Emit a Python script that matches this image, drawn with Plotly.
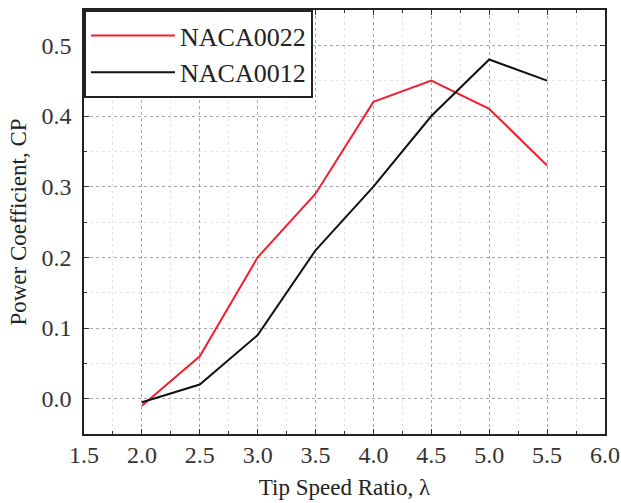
import plotly.graph_objects as go

tsr = [2.0, 2.5, 3.0, 3.5, 4.0, 4.5, 5.0, 5.5]
cp_naca0022 = [-0.01, 0.06, 0.20, 0.29, 0.42, 0.45, 0.41, 0.33]
cp_naca0012 = [-0.005, 0.02, 0.09, 0.21, 0.30, 0.40, 0.48, 0.45]
x_ticks = [1.5, 2.0, 2.5, 3.0, 3.5, 4.0, 4.5, 5.0, 5.5, 6.0]
y_ticks = [0.0, 0.1, 0.2, 0.3, 0.4, 0.5]

FONT = "Liberation Serif, Times New Roman, serif"

fig = go.Figure()
fig.add_trace(go.Scatter(x=tsr, y=cp_naca0022, mode="lines", name="NACA0022",
                         line=dict(color="#f0202e", width=2)))
fig.add_trace(go.Scatter(x=tsr, y=cp_naca0012, mode="lines", name="NACA0012",
                         line=dict(color="#111111", width=2)))

axis_common = dict(
    showline=True, linecolor="#222222", linewidth=1.5, mirror="allticks",
    ticks="inside", ticklen=5, tickcolor="#333333", tickwidth=1,
    showgrid=True, gridcolor="#a8a8a8", griddash="dot", gridwidth=1,
    zeroline=False, automargin=False,
    tickfont=dict(family=FONT, size=24, color="#333333"),
)

fig.update_xaxes(
    range=[1.5, 6.0], tickvals=x_ticks, ticktext=[f"{v:.1f}" for v in x_ticks],
    minor=dict(dtick=0.25, tick0=1.5, ticks="inside", ticklen=3, tickcolor="#333333",
               showgrid=True, gridcolor="#e6e6e6", gridwidth=1),
    title=dict(text="Tip Speed Ratio, λ", font=dict(family=FONT, size=23, color="#222222"),
               standoff=12),
    ticklabelstandoff=-2,
    **axis_common,
)
fig.update_yaxes(
    range=[-0.05, 0.55], tickvals=y_ticks, ticktext=[f"{v:.1f}" for v in y_ticks],
    minor=dict(dtick=0.05, tick0=0, ticks="inside", ticklen=3, tickcolor="#333333",
               showgrid=True, gridcolor="#e6e6e6", gridwidth=1),
    title=dict(text="Power Coefficient, CP", font=dict(family=FONT, size=23, color="#222222"),
               standoff=8),
    ticklabelstandoff=6,
    **axis_common,
)

fig.update_layout(
    width=621, height=503,
    margin=dict(l=84, r=16, t=10, b=69),
    paper_bgcolor="white", plot_bgcolor="white",
    showlegend=True,
    legend=dict(x=0, y=1, xanchor="left", yanchor="top",
                bgcolor="white", bordercolor="#222222", borderwidth=2,
                font=dict(family=FONT, size=26, color="#222222"),
                itemwidth=84, tracegroupgap=0),
)

fig.write_html("out.html")
